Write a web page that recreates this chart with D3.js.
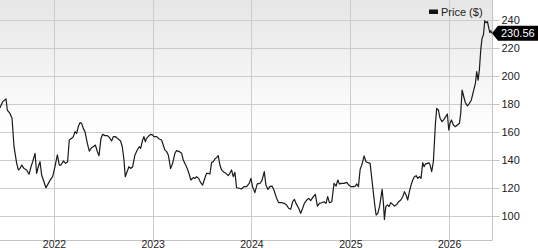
<!DOCTYPE html>
<html>
<head>
<meta charset="utf-8">
<script src="https://cdn.jsdelivr.net/npm/d3@7"></script>
<style>
html,body{margin:0;padding:0;background:#fff;}
svg{display:block;font-family:"Liberation Sans",Arial,Helvetica,sans-serif;}
</style>
</head>
<body>
<svg id="chart" width="538" height="250"></svg>
<script>
// ---- data (dates as decimal years) ----
const years = [
2021.453,2021.480,2021.514,2021.527,2021.554,2021.575,2021.595,2021.622,2021.639,2021.656,
2021.673,2021.696,2021.723,2021.747,2021.767,2021.784,2021.808,2021.824,2021.841,2021.858,
2021.875,2021.892,2021.919,2021.943,2021.966,2021.986,2022.010,2022.034,2022.054,2022.071,
2022.095,2022.118,2022.138,2022.155,2022.179,2022.196,2022.213,2022.230,2022.246,2022.263,
2022.280,2022.297,2022.314,2022.338,2022.358,2022.381,2022.398,2022.419,2022.439,2022.456,
2022.476,2022.493,2022.517,2022.540,2022.560,2022.584,2022.601,2022.618,2022.635,2022.651,
2022.675,2022.692,2022.709,2022.722,2022.743,2022.759,2022.776,2022.797,2022.820,2022.844,
2022.864,2022.878,2022.898,2022.911,2022.925,2022.938,2022.959,2022.979,2022.999,2023.013,
2023.040,2023.067,2023.090,2023.107,2023.124,2023.141,2023.158,2023.181,2023.202,2023.225,
2023.242,2023.269,2023.293,2023.310,2023.330,2023.350,2023.370,2023.387,2023.411,2023.428,
2023.445,2023.465,2023.485,2023.506,2023.522,2023.546,2023.563,2023.580,2023.597,2023.614,
2023.630,2023.647,2023.664,2023.681,2023.698,2023.722,2023.742,2023.765,2023.782,2023.799,
2023.816,2023.833,2023.850,2023.877,2023.900,2023.924,2023.951,2023.978,2023.995,2024.012,
2024.035,2024.059,2024.086,2024.106,2024.130,2024.147,2024.167,2024.187,2024.208,2024.228,
2024.255,2024.275,2024.305,2024.333,2024.356,2024.376,2024.397,2024.417,2024.434,2024.451,
2024.478,2024.498,2024.518,2024.535,2024.559,2024.579,2024.599,2024.626,2024.646,2024.667,
2024.687,2024.711,2024.734,2024.754,2024.771,2024.788,2024.812,2024.835,2024.856,2024.873,
2024.890,2024.913,2024.937,2024.964,2024.984,2025.004,2025.031,2025.051,2025.065,2025.082,
2025.099,2025.119,2025.139,2025.159,2025.180,2025.200,2025.217,2025.234,2025.247,2025.261,
2025.278,2025.295,2025.311,2025.322,2025.335,2025.345,2025.359,2025.376,2025.392,2025.409,
2025.430,2025.446,2025.470,2025.490,2025.511,2025.531,2025.548,2025.565,2025.581,2025.598,
2025.615,2025.632,2025.649,2025.666,2025.683,2025.700,2025.716,2025.733,2025.747,2025.760,
2025.781,2025.794,2025.808,2025.824,2025.841,2025.851,2025.862,2025.875,2025.892,2025.909,
2025.929,2025.949,2025.966,2025.983,2025.997,2026.010,2026.024,2026.044,2026.064,2026.084,
2026.105,2026.118,2026.132,2026.149,2026.165,2026.186,2026.206,2026.226,2026.246,2026.267,
2026.280,2026.294,2026.307,2026.321,2026.334,2026.348,2026.362,2026.375,2026.389,2026.403,
2026.414,2026.423,2026.432
];
const prices = [
177.4,181.7,183.6,175.7,173.3,169.8,149.5,137.6,132.9,134.0,
136.4,134.0,132.9,129.8,135.2,138.8,144.8,130.5,135.2,138.8,
129.3,125.7,120.2,123.3,126.2,128.1,135.2,143.6,136.4,136.4,
139.3,137.6,138.8,154.3,155.5,156.7,160.2,159.0,163.8,166.7,
166.2,162.6,160.2,151.9,146.4,148.8,149.5,150.7,146.0,143.1,
155.5,158.3,157.4,157.4,156.2,153.6,156.7,156.7,156.0,155.0,
153.6,149.5,140.0,128.1,132.1,135.2,134.0,135.2,143.6,147.1,
149.5,148.3,154.3,156.7,153.1,155.5,157.1,158.3,157.9,156.7,
156.7,155.0,154.3,150.7,147.1,146.0,143.6,134.0,137.6,144.8,
146.7,146.0,144.8,140.0,136.9,134.0,129.8,125.7,127.4,126.9,
128.1,126.9,124.0,122.1,125.7,130.5,130.5,130.0,138.3,138.8,
140.7,141.7,143.1,136.4,132.9,131.2,130.5,128.8,130.5,132.9,
128.1,131.2,120.2,119.8,119.3,121.0,121.0,123.3,126.9,121.0,
116.7,122.9,123.3,125.2,131.7,122.1,119.0,121.0,121.4,118.6,
112.6,109.5,109.5,109.0,107.9,105.5,104.8,110.2,111.9,109.0,
105.5,101.9,105.5,109.0,111.4,112.6,111.0,113.8,115.5,107.1,
109.0,109.5,110.2,109.0,113.8,109.5,110.2,123.3,121.4,125.7,
122.9,123.3,123.3,124.0,122.1,121.0,121.0,121.4,122.9,121.0,
133.3,137.1,142.9,138.8,138.1,137.6,126.9,116.2,107.9,100.7,
101.9,106.7,113.8,119.0,109.0,97.6,106.7,107.9,106.7,109.5,
108.3,107.1,108.3,110.2,111.4,113.8,117.4,115.0,111.4,117.4,
122.1,125.7,128.1,128.8,126.9,128.1,126.9,138.1,135.2,137.1,
137.6,138.1,136.4,131.7,138.8,151.9,166.2,176.9,175.7,169.8,
167.4,169.0,171.0,172.9,161.4,166.2,168.6,165.0,163.8,165.0,
166.2,173.3,190.0,185.2,181.0,178.6,180.5,182.9,188.8,194.8,
203.1,197.1,204.3,218.6,226.9,229.3,239.5,238.1,238.8,234.0,
231.0,232.4,230.56
];
const yTickValues = [100, 120, 140, 160, 180, 200, 220, 240];
const xTickYears = [2022, 2023, 2024, 2025, 2026];
const seriesName = "Price ($)";
const lastLabel = "230.56";

// ---- helpers ----
function toDate(y) {
  const yr = Math.floor(y);
  const s = new Date(yr, 0, 1), e = new Date(yr + 1, 0, 1);
  return new Date(+s + (y - yr) * (e - s));
}
const data = years.map((y, i) => ({ date: toDate(y), value: prices[i] }));

// ---- layout ----
const W = 538, H = 250;
const plot = { left: 0, right: 492, top: 0, bottom: 240 };
const FONT = "'Liberation Sans',Arial,sans-serif";

const svg = d3.select("#chart");

const x = d3.scaleTime()
  .domain([toDate(2021.453), toDate(2026.435)])
  .range([plot.left, plot.right]);
const y = d3.scaleLinear()
  .domain([82.86, 254.3])
  .range([plot.bottom, plot.top]);

// background gradient
const defs = svg.append("defs");
const grad = defs.append("linearGradient").attr("id", "bg")
  .attr("x1", 0).attr("y1", 0).attr("x2", 0).attr("y2", 1);
grad.append("stop").attr("offset", "0%").attr("stop-color", "#e6e6e6");
grad.append("stop").attr("offset", "55%").attr("stop-color", "#ffffff");
grad.append("stop").attr("offset", "100%").attr("stop-color", "#ffffff");

svg.append("rect")
  .attr("x", plot.left).attr("y", plot.top)
  .attr("width", plot.right - plot.left).attr("height", plot.bottom - plot.top)
  .attr("fill", "url(#bg)");

// horizontal gridlines
svg.append("g").selectAll("line").data(yTickValues).join("line")
  .attr("x1", plot.left).attr("x2", plot.right)
  .attr("y1", d => Math.round(y(d)) + 0.5).attr("y2", d => Math.round(y(d)) + 0.5)
  .attr("stroke", "#cccccc").attr("stroke-width", 1);

// vertical gridlines
svg.append("g").selectAll("line").data(xTickYears).join("line")
  .attr("x1", d => Math.round(x(new Date(d, 0, 1))) + 0.5)
  .attr("x2", d => Math.round(x(new Date(d, 0, 1))) + 0.5)
  .attr("y1", plot.top).attr("y2", plot.bottom)
  .attr("stroke", "#cccccc").attr("stroke-width", 1);

// right axis
const yAxis = d3.axisRight(y).tickValues(yTickValues).tickSize(7).tickPadding(2);
const gy = svg.append("g")
  .attr("transform", `translate(${plot.right + 0.5},0)`)
  .call(yAxis);
gy.select(".domain").attr("stroke", "#c4c4c4")
  .attr("d", `M0,${plot.top}V${plot.bottom}`);
gy.selectAll(".tick line").attr("stroke", "#c4c4c4");
gy.selectAll(".tick text").attr("fill", "#222").style("font-size", "11px")
  .style("font-family", FONT);

// bottom axis
const xAxis = d3.axisBottom(x)
  .tickValues(xTickYears.map(d => new Date(d, 0, 1)))
  .tickFormat(d3.timeFormat("%Y"))
  .tickSize(0).tickPadding(0);
const gx = svg.append("g")
  .attr("transform", `translate(0,${plot.bottom + 0.5})`)
  .call(xAxis);
gx.select(".domain").attr("stroke", "#c4c4c4")
  .attr("d", `M${plot.left},0H${plot.right + 0.5}`);
gx.selectAll(".tick text")
  .attr("y", 7.5).attr("dy", "0")
  .attr("fill", "#222").style("font-size", "10.5px")
  .style("font-family", FONT);

// price line
const line = d3.line().x(d => x(d.date)).y(d => y(d.value));
svg.append("path").datum(data)
  .attr("d", line)
  .attr("fill", "none")
  .attr("stroke", "#1a1a1a")
  .attr("stroke-width", 1.2)
  .attr("stroke-linejoin", "round");

// legend
const lg = svg.append("g").attr("transform", "translate(429,9)");
lg.append("rect").attr("x", 0).attr("y", 0.5).attr("width", 9).attr("height", 4.5).attr("fill", "#111");
lg.append("text").attr("x", 12).attr("y", 7)
  .attr("fill", "#222").style("font-size", "11px")
  .style("font-family", FONT)
  .text(seriesName);

// last value tag
const last = data[data.length - 1];
const ly = y(last.value);
const tx = plot.right;
svg.append("path")
  .attr("d", `M${tx},${ly} L${tx + 6},${ly - 7.5} L${W},${ly - 7.5} L${W},${ly + 7.5} L${tx + 6},${ly + 7.5} Z`)
  .attr("fill", "#000");
svg.append("text")
  .attr("x", tx + 9).attr("y", ly + 4)
  .attr("fill", "#fff").style("font-size", "11px")
  .style("font-family", FONT)
  .text(lastLabel);
</script>
</body>
</html>
